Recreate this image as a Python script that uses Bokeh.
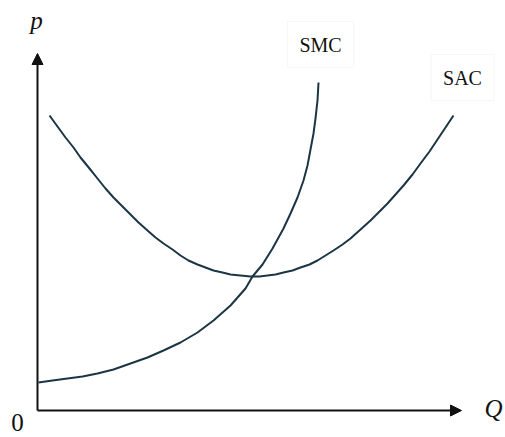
from bokeh.plotting import figure
from bokeh.models import Range1d, Arrow, NormalHead, Label
from bokeh.embed import file_html
from bokeh.resources import INLINE

# Short-run average cost curve (Q, p)
sac_q = [12, 20, 28, 36, 43, 52, 60, 68, 76, 85, 93, 101, 110, 118, 126, 135, 143, 151, 160, 168, 176, 185,
         193, 203, 213, 222, 230, 238, 246, 255, 263, 272, 280, 288, 296, 305, 313, 323, 333, 341, 350, 358,
         366, 375, 383, 392, 400, 408, 416]
sac_p = [295, 284, 273, 263, 253, 242, 232, 222, 213, 204, 196, 188, 180, 173, 167, 161, 155, 150, 146, 143, 140, 138,
         136, 135, 134, 134, 135, 136, 138, 140, 143, 146, 150, 155, 160, 166, 172, 181, 190, 198, 207, 216,
         225, 236, 247, 259, 271, 283, 295]

# Short-run marginal cost curve (Q, p)
smc_q = [1, 15, 30, 45, 60, 76, 93, 110, 126, 143, 160, 176, 193, 208, 215, 225, 235, 246,
         253, 260, 266, 270, 273, 276, 278, 280, 281]
smc_p = [28, 30, 32, 34, 37, 41, 47, 53, 60, 68, 78, 90, 105, 122, 134, 146, 162, 182,
         197, 213, 230, 245, 261, 277, 292, 310, 328]

axis_labels = {"y": "p", "x": "Q", "origin": "0"}
curve_labels = {"SMC": (283, 366), "SAC": (425, 333)}

p = figure(width=505, height=437, output_backend="svg", toolbar_location=None,
           x_range=Range1d(-37, 468), y_range=Range1d(-27, 410),
           min_border=0, outline_line_color=None)
p.axis.visible = False
p.grid.visible = False
p.background_fill_color = "white"
p.border_fill_color = "white"

curve_color = "#1c3544"
p.line(sac_q, sac_p, line_color=curve_color, line_width=2, line_join="round")
p.line(smc_q, smc_p, line_color=curve_color, line_width=2, line_join="round")

# axes with arrows
p.add_layout(Arrow(x_start=0, y_start=0, x_end=0, y_end=357, line_color="#111111", line_width=2,
                   end=NormalHead(size=11, fill_color="#111111", line_color="#111111")))
p.add_layout(Arrow(x_start=0, y_start=0, x_end=424, y_end=0, line_color="#111111", line_width=2,
                   end=NormalHead(size=11, fill_color="#111111", line_color="#111111")))

p.add_layout(Label(x=-1, y=390, text=axis_labels["y"], text_font="Liberation Serif", text_font_style="italic",
                   text_font_size="25px", text_align="center", text_baseline="middle", text_color="#111111"))
p.add_layout(Label(x=456, y=2, text=axis_labels["x"], text_font="Liberation Serif", text_font_style="italic",
                   text_font_size="25px", text_align="center", text_baseline="middle", text_color="#111111"))
p.add_layout(Label(x=-20, y=-12, text=axis_labels["origin"], text_font="Liberation Serif",
                   text_font_size="25px", text_align="center", text_baseline="middle", text_color="#111111"))

for name, (lx, ly) in curve_labels.items():
    p.add_layout(Label(x=lx, y=ly, text=name, text_font="Liberation Serif", text_font_size="20px",
                       text_align="center", text_baseline="middle", text_color="#111111",
                       border_line_color="#f6f6f6", padding=12))

open("out.html", "w").write(file_html(p, INLINE))
